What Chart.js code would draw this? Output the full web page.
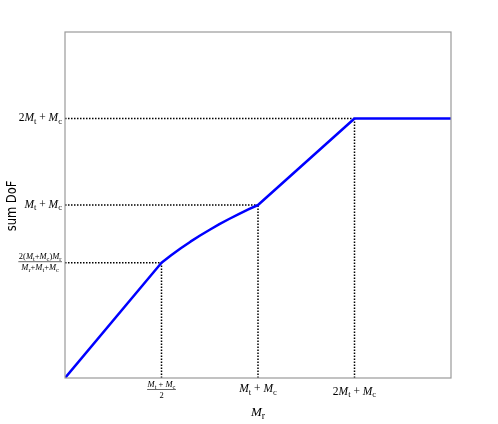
<!DOCTYPE html>
<html>
<head>
<meta charset="utf-8">
<script src="https://cdn.jsdelivr.net/npm/chart.js@4.4.1/dist/chart.umd.min.js"></script>
<style>
html,body{margin:0;padding:0;background:#fff;}
#wrap{width:498px;height:424px;}
</style>
</head>
<body>
<div id="wrap"><canvas id="c" width="498" height="424"></canvas></div>
<script>
// Data (x in units where Mt = Mc = 1)
const curveX = [0, 1, 1.1, 1.2, 1.3, 1.4, 1.5, 1.6, 1.7, 1.8, 1.9, 2, 3, 4];
const curveY = [0, 1.333, 1.419, 1.5, 1.576, 1.647, 1.714, 1.778, 1.838, 1.895, 1.949, 2, 3, 3];
const markerX = [1, 2, 3];
const markerY = [1.333, 2, 3];
const xTickValues = [1, 2, 3];
const xTickLabels = ['frac:M_t + M_c|2', 'M_t + M_c', '2M_t + M_c'];
const yTickValues = [1.333, 2, 3];
const yTickLabels = ['frac:2(M_t+M_c)M_r|M_r+M_t+M_c', 'M_t + M_c', '2M_t + M_c'];
const xTitle = 'M_r';
const yTitle = 'sum DoF';

const SERIF = '"Liberation Serif", "DejaVu Serif", serif';

function tokens(s) {
  const out = [];
  for (let i = 0; i < s.length; i++) {
    const ch = s[i];
    if (ch === '_') { out.push({t: s[i + 1], k: 'sub'}); i++; }
    else if (/[A-Za-z]/.test(ch)) out.push({t: ch, k: 'it'});
    else out.push({t: ch, k: 'rm'});
  }
  return out;
}
function fontFor(k, size) {
  if (k === 'it') return 'italic ' + size + 'px ' + SERIF;
  if (k === 'sub') return (size * 0.75).toFixed(1) + 'px ' + SERIF;
  return size + 'px ' + SERIF;
}
function measure(ctx, s, size) {
  let w = 0;
  for (const tk of tokens(s)) { ctx.font = fontFor(tk.k, size); w += ctx.measureText(tk.t).width; }
  return w;
}
function drawExpr(ctx, s, x, y, align, size) {
  const w = measure(ctx, s, size);
  let cx = align === 'right' ? x - w : align === 'center' ? x - w / 2 : x;
  ctx.textBaseline = 'alphabetic';
  ctx.textAlign = 'left';
  for (const tk of tokens(s)) {
    ctx.font = fontFor(tk.k, size);
    const dy = tk.k === 'sub' ? size * 0.22 : 0;
    ctx.fillText(tk.t, cx, y + dy);
    cx += ctx.measureText(tk.t).width;
  }
  return w;
}
function drawLabel(ctx, lab, x, y, align, size, fsize) {
  if (lab.startsWith('frac:')) {
    const [num, den] = lab.slice(5).split('|');
    const wn = measure(ctx, num, fsize), wd = measure(ctx, den, fsize);
    const w = Math.max(wn, wd) + 1;
    const cx = align === 'right' ? x - w / 2 : align === 'center' ? x : x + w / 2;
    drawExpr(ctx, num, cx, y - 2, 'center', fsize);
    drawExpr(ctx, den, cx, y + fsize + 0.5, 'center', fsize);
    ctx.save();
    ctx.strokeStyle = '#000';
    ctx.lineWidth = 0.6;
    ctx.beginPath();
    ctx.moveTo(cx - w / 2, y + 0.5);
    ctx.lineTo(cx + w / 2, y + 0.5);
    ctx.stroke();
    ctx.restore();
  } else {
    drawExpr(ctx, lab, x, y + size * 0.35, align, size);
  }
}

const labelsPlugin = {
  id: 'mathLabels',
  afterDraw(chart) {
    const ctx = chart.ctx;
    const xs = chart.scales.x, ys = chart.scales.y;
    const a = chart.chartArea;
    ctx.save();
    ctx.strokeStyle = '#9a9a9a';
    ctx.lineWidth = 1.2;
    ctx.strokeRect(a.left, a.top, a.right - a.left, a.bottom - a.top);
    ctx.fillStyle = '#000';
    yTickLabels.forEach((lab, i) => {
      const py = ys.getPixelForValue(yTickValues[i]);
      drawLabel(ctx, lab, a.left - 3, py - 1.5, 'right', 11.5, 8.5);
    });
    xTickLabels.forEach((lab, i) => {
      const px = xs.getPixelForValue(xTickValues[i]);
      if (lab.startsWith('frac:')) drawLabel(ctx, lab, px, a.bottom + 11, 'center', 11.5, 8.5);
      else drawLabel(ctx, lab, px, a.bottom + (/^\d/.test(lab) ? 12.5 : 10), 'center', 11.5, 8.5);
    });
    drawExpr(ctx, xTitle, (a.left + a.right) / 2, a.bottom + 38, 'center', 13);
    ctx.translate(12, (a.top + a.bottom) / 2 + 1);
    ctx.rotate(-Math.PI / 2);
    ctx.scale(0.82, 1);
    ctx.font = '14px "DejaVu Sans", sans-serif';
    ctx.textAlign = 'center';
    ctx.textBaseline = 'middle';
    ctx.fillText(yTitle, 0, 0);
    ctx.restore();
  }
};

const dotted = [];
markerX.forEach((mx, i) => {
  dotted.push({data: [{x: 0, y: markerY[i]}, {x: mx, y: markerY[i]}]});
  dotted.push({data: [{x: mx, y: 0}, {x: mx, y: markerY[i]}]});
});

new Chart(document.getElementById('c'), {
  type: 'line',
  data: {
    datasets: [
      {
        data: curveX.map((x, i) => ({x, y: curveY[i]})),
        borderColor: '#0000ff',
        borderWidth: 2.5,
        pointRadius: 0,
        tension: 0,
        borderJoinStyle: 'round',
        order: 0
      },
      ...dotted.map(d => ({
        data: d.data,
        borderColor: '#000',
        borderWidth: 1.5,
        borderDash: [1.5, 1.5],
        pointRadius: 0,
        order: 1
      }))
    ]
  },
  options: {
    responsive: false,
    animation: false,
    layout: {padding: {left: 57, right: 47, top: 32, bottom: 38}},
    plugins: {legend: {display: false}, tooltip: {enabled: false}},
    scales: {
      x: {type: 'linear', min: 0, max: 4, ticks: {display: false}, grid: {display: false}, border: {display: false}},
      y: {type: 'linear', min: 0, max: 4, ticks: {display: false}, grid: {display: false}, border: {display: false}}
    }
  },
  plugins: [labelsPlugin]
});
</script>
</body>
</html>
